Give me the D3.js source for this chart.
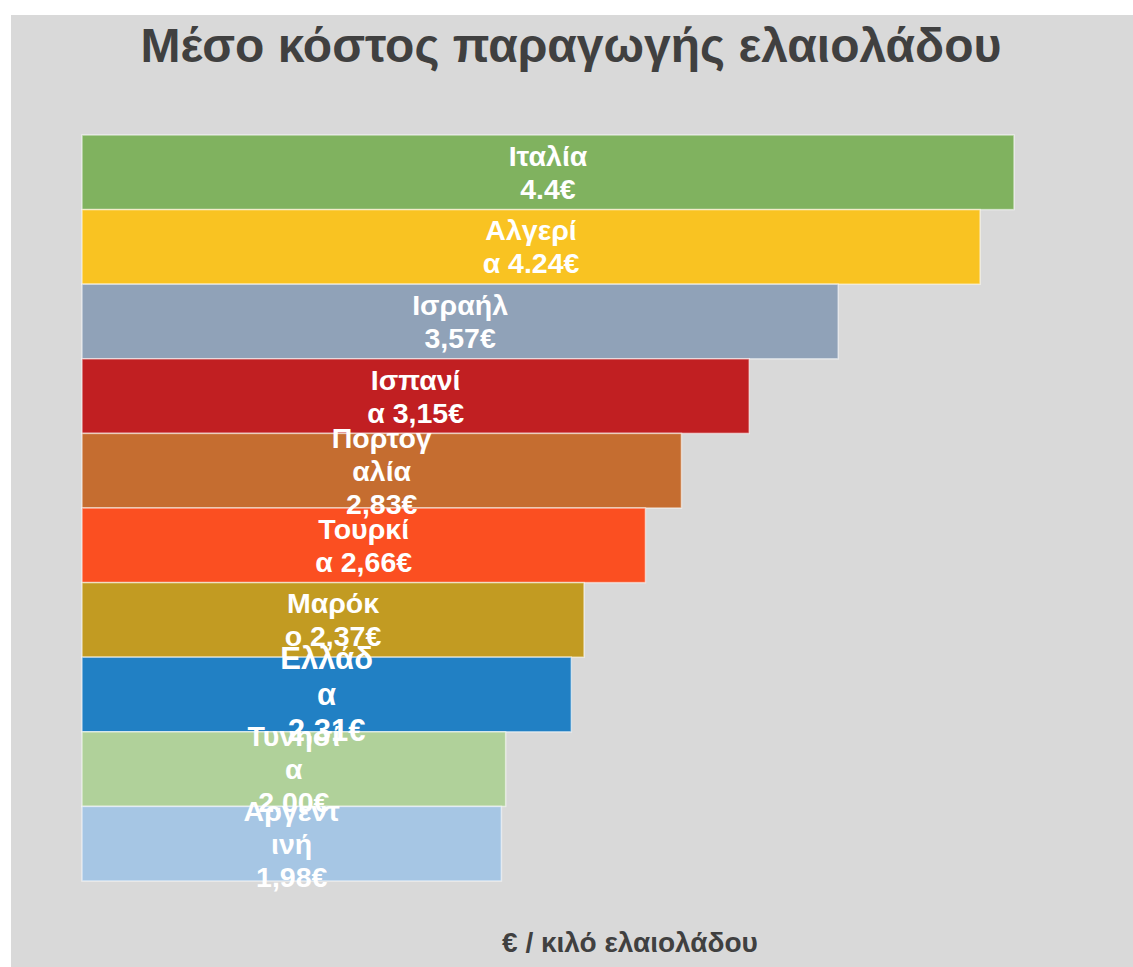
<!DOCTYPE html>
<html>
<head>
<meta charset="utf-8">
<script src="https://cdn.jsdelivr.net/npm/d3@7"></script>
<style>
  html, body { margin: 0; padding: 0; background: #ffffff; }
  svg { display: block; }
  text { font-family: "Liberation Sans", Arial, sans-serif; }
</style>
</head>
<body>
<svg id="chart" width="1133" height="967"></svg>
<script>
// ---- data ----
const countries = ["Ιταλία", "Αλγερία", "Ισραήλ", "Ισπανία", "Πορτογαλία", "Τουρκία", "Μαρόκο", "Ελλάδα", "Τυνησία", "Αργεντινή"];
const costs = [4.4, 4.24, 3.57, 3.15, 2.83, 2.66, 2.37, 2.31, 2.00, 1.98];
const labelLines = [
  ["Ιταλία", "4.4€"],
  ["Αλγερί", "α 4.24€"],
  ["Ισραήλ", "3,57€"],
  ["Ισπανί", "α 3,15€"],
  ["Πορτογ", "αλία", "2,83€"],
  ["Τουρκί", "α 2,66€"],
  ["Μαρόκ", "ο 2,37€"],
  ["Ελλάδ", "α", "2,31€"],
  ["Τυνησί", "α", "2,00€"],
  ["Αργεντ", "ινή", "1,98€"]
];
const barColors = ["#80b25f", "#f9c322", "#90a2b8", "#c11f22", "#c56d30", "#fb4f21", "#c29b22", "#2180c4", "#b0d19a", "#a6c6e4"];
const highlighted = "Ελλάδα";
const titleText = "Μέσο κόστος παραγωγής ελαιολάδου";
const axisTitle = "€ / κιλό ελαιολάδου";

// ---- drawing ----
const W = 1133, H = 967;
const svg = d3.select("#chart");

svg.append("rect").attr("x", 11).attr("y", 15).attr("width", W - 11).attr("height", H - 15).attr("fill", "#d9d9d9");

svg.append("text")
  .attr("x", 571).attr("y", 62)
  .attr("text-anchor", "middle")
  .attr("font-size", 48).attr("font-weight", "bold")
  .attr("fill", "#404040")
  .text(titleText);

const x = d3.scaleLinear().domain([0, 4.4]).range([82, 1014]);
const y = d3.scaleBand().domain(countries).range([135, 881]).padding(0);

const data = countries.map((c, i) => ({ c, v: costs[i], lines: labelLines[i], color: barColors[i] }));

svg.append("g").selectAll("rect").data(data).join("rect")
  .attr("x", x(0))
  .attr("y", d => y(d.c))
  .attr("width", d => x(d.v) - x(0))
  .attr("height", y.bandwidth())
  .attr("fill", d => d.color)
  .attr("stroke", "rgba(255,255,255,0.55)")
  .attr("stroke-width", 1.5);

const fsOf = d => d.c === highlighted ? 31 : 28.5;

const lab = svg.append("g").selectAll("text").data(data).join("text")
  .attr("text-anchor", "middle")
  .attr("font-weight", "bold")
  .attr("fill", "#ffffff")
  .attr("font-size", fsOf);

lab.each(function(d) {
  const fs = fsOf(d);
  const lh = fs * 1.16;
  const cx = (x(0) + x(d.v)) / 2;
  const cy = y(d.c) + y.bandwidth() / 2;
  const n = d.lines.length;
  const y0 = cy - (n - 1) / 2 * lh + fs * 0.35;
  d3.select(this).selectAll("tspan").data(d.lines).join("tspan")
    .attr("x", cx)
    .attr("y", (t, j) => y0 + j * lh)
    .text(t => t);
});

svg.append("text")
  .attr("x", 630).attr("y", 952)
  .attr("text-anchor", "middle")
  .attr("font-size", 28).attr("font-weight", "bold")
  .attr("fill", "#404040")
  .text(axisTitle);
</script>
</body>
</html>
